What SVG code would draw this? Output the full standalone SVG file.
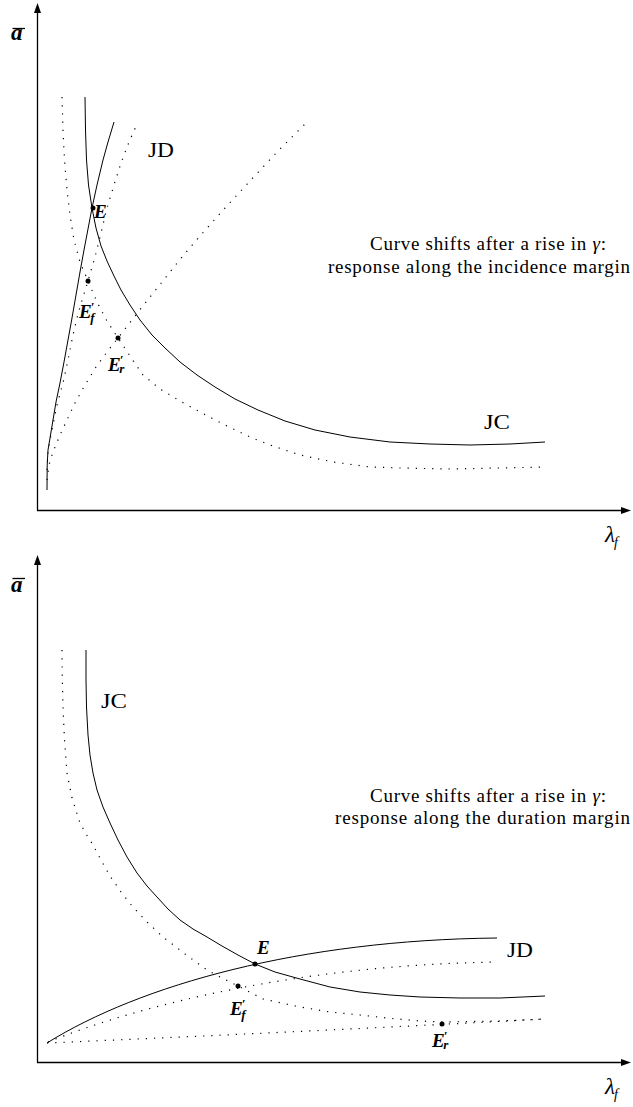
<svg xmlns="http://www.w3.org/2000/svg" width="633" height="1107" viewBox="0 0 633 1107">
<style>
.ax{stroke:#000;stroke-width:1.3;fill:none}
.sol{stroke:#000;stroke-width:1;fill:none;stroke-linejoin:round}
.dot{stroke:#000;stroke-width:1.2;fill:none;stroke-dasharray:1.2 7}
.pt{fill:#000}
.lbl{font-family:"Liberation Serif","DejaVu Serif",serif;font-size:22px;fill:#000}
.ann{font-family:"Liberation Serif","DejaVu Serif",serif;font-size:19px;fill:#000}
.m{font-family:"Liberation Serif","DejaVu Serif",serif;font-style:italic;font-weight:bold;font-size:19px;fill:#000}
.ml{font-family:"Liberation Serif","DejaVu Serif",serif;font-style:italic;font-size:23px;fill:#000}
.sub{font-size:14px}
.s{font-size:13px}
</style>
<rect x="0" y="0" width="633" height="1107" fill="#fff"/>

<!-- TOP PANEL -->
<g id="top-axes">
  <line class="ax" x1="37.5" y1="510.5" x2="37.5" y2="11"/>
  <polygon points="37.5,3 34,13 41,13" fill="#000"/>
  <line class="ax" x1="37" y1="510.5" x2="622" y2="510.5"/>
  <polygon points="631,510.5 621,507 621,514" fill="#000"/>
  <line x1="12.5" y1="28.5" x2="25" y2="28.5" stroke="#000" stroke-width="1.3"/>
  <text class="ml" x="11" y="40" font-weight="bold">a</text>
  <text class="ml" x="605" y="542">λ<tspan class="sub" dy="5" dx="-1">f</tspan></text>
</g>
<g id="top-connectors">
  <path id="top-JC" class="sol" d="M85,97 L85.5,130 L86.5,160 L88.5,185 L92,208 L96,228 L101,246 L107,261 L114,276 L121,290 L130,305 L140,320 L152,335 L165,348 L180,362 L197,375 L215,387 L235,399 L258,410 L285,421 L315,430 L350,437 L390,442 L430,444 L470,445 L510,444 L545,442"/>
  <path id="top-JC-shift" class="dot" d="M62,97 L63,130 L64.5,160 L67,190 L70,215 L74,240 L80,262 L88,281 L97,302 L107,321 L118,338 L130,356 L143,375 L160,389 L180,401 L200,412 L225,425 L250,437 L270,445 L300,455 L333,462 L370,467 L400,468 L450,469 L500,468 L545,467"/>
  <path id="top-JD" class="sol" d="M47,490 L47.2,465 L48,450 L50,438 L53,420 L56,402 L60,383 L64,362 L68,340 L72,318 L76,295 L80,272 L84,250 L88,229 L92,208 L97,185 L103,160 L108,142 L114,122"/>
  <path id="top-JD-f" class="dot" d="M47,470 L48,452 L50,440 L53,425 L57,405 L63,383 L68,360 L73,335 L78,314 L83,297 L88,281 L95,257 L101,233 L107,208 L114,185 L121,163 L129,142 L138,122"/>
  <path id="top-JD-r" class="dot" d="M47,480 L49,465 L52,455 L55,447 L60,435 L67,420 L75,403 L85,385 L96,367 L107,352 L118,338 L135,316 L150,297 L166,277 L182,257 L200,236 L225,208 L250,181 L278,151 L307,122"/>
</g>
<g id="top-points">
  <circle class="pt" cx="93" cy="208" r="2.5"/>
  <circle class="pt" cx="88" cy="281" r="2.5"/>
  <circle class="pt" cx="118" cy="338" r="2.5"/>
</g>
<g id="top-labels">
  <text class="lbl" x="148" y="157" textLength="26" lengthAdjust="spacingAndGlyphs">JD</text>
  <text class="lbl" x="484" y="429" textLength="26" lengthAdjust="spacingAndGlyphs">JC</text>
  <text class="m" x="94" y="218">E</text>
  <text class="m" x="79" y="318">E<tspan class="s" dx="-1" dy="-7">′</tspan><tspan class="s" dx="-4" dy="11">f</tspan></text>
  <text class="m" x="108" y="371">E<tspan class="s" dx="-1" dy="-7">′</tspan><tspan class="s" dx="-4" dy="9">r</tspan></text>
  <text class="ann" x="370" y="250" textLength="236">Curve shifts after a rise in <tspan font-style="italic">γ</tspan>:</text>
  <text class="ann" x="328" y="273" textLength="302">response along the incidence margin</text>
</g>

<!-- BOTTOM PANEL -->
<g id="bottom-axes">
  <line class="ax" x1="37.5" y1="1062.5" x2="37.5" y2="563"/>
  <polygon points="37.5,555 34,565 41,565" fill="#000"/>
  <line class="ax" x1="37" y1="1062.5" x2="622" y2="1062.5"/>
  <polygon points="631,1062.5 621,1059 621,1066" fill="#000"/>
  <line x1="12.5" y1="578.5" x2="25" y2="578.5" stroke="#000" stroke-width="1.3"/>
  <text class="ml" x="11" y="592" font-weight="bold">a</text>
  <text class="ml" x="605" y="1094">λ<tspan class="sub" dy="5" dx="-1">f</tspan></text>
</g>
<g id="bottom-connectors">
  <path id="bot-JC" class="sol" d="M86,650 L86,680 L86.5,707 L88,735 L90,755 L93,773 L97,790 L103,807 L110,823 L118,840 L127,857 L137,873 L147,886 L157,897 L168,909 L180,920 L193,929 L207,937 L222,946 L238,955 L255,964 L275,972 L300,979 L330,987 L360,992 L390,995 L420,997 L460,998 L500,998 L545,996"/>
  <path id="bot-JC-shift" class="dot" d="M62,650 L62.3,680 L63,707 L64.5,740 L67,773 L72,798 L80,823 L86,834 L93,845 L101,860 L110,876 L121,892 L133,907 L147,922 L163,937 L185,954 L207,970 L222,978 L238,986 L263,999 L295,1006 L330,1012 L360,1015 L387,1018 L420,1021 L442,1022 L500,1021 L545,1019"/>
  <path id="bot-JD" class="sol" d="M47,1043 C140,985 300,940 497,938"/>
  <path id="bot-JD-f" class="dot" d="M48,1042 C140,1005 300,965 497,962"/>
  <path id="bot-JD-r" class="dot" d="M47,1043 Q300,1032 545,1019"/>
</g>
<g id="bottom-points">
  <circle class="pt" cx="255" cy="964" r="2.5"/>
  <circle class="pt" cx="238" cy="986" r="2.5"/>
  <circle class="pt" cx="442" cy="1024" r="2.5"/>
</g>
<g id="bottom-labels">
  <text class="lbl" x="101" y="708" textLength="26" lengthAdjust="spacingAndGlyphs">JC</text>
  <text class="lbl" x="507" y="957" textLength="26" lengthAdjust="spacingAndGlyphs">JD</text>
  <text class="m" x="257" y="954">E</text>
  <text class="m" x="230" y="1015">E<tspan class="s" dx="-1" dy="-7">′</tspan><tspan class="s" dx="-4" dy="11">f</tspan></text>
  <text class="m" x="432" y="1047">E<tspan class="s" dx="-1" dy="-7">′</tspan><tspan class="s" dx="-4" dy="9">r</tspan></text>
  <text class="ann" x="370" y="802" textLength="236">Curve shifts after a rise in <tspan font-style="italic">γ</tspan>:</text>
  <text class="ann" x="335" y="824" textLength="295">response along the duration margin</text>
</g>
</svg>
